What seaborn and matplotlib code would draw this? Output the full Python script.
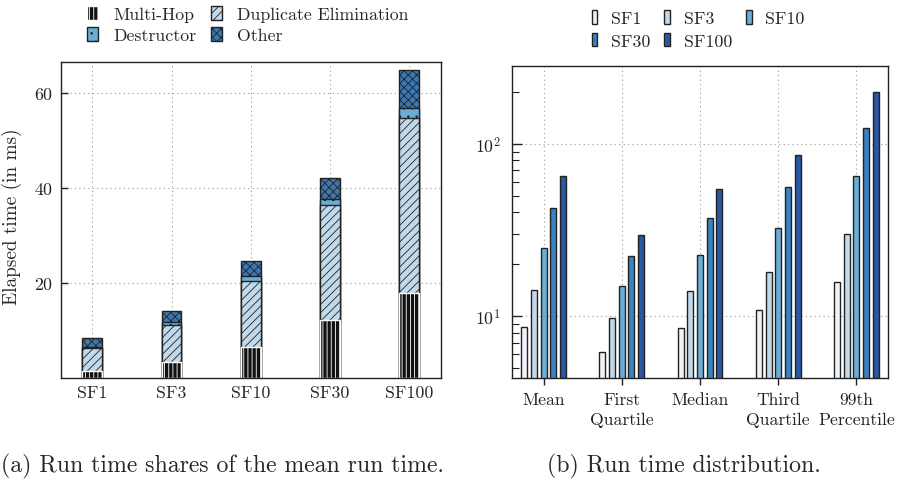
import numpy as np
import pandas as pd
import matplotlib
matplotlib.use("Agg")
import matplotlib.pyplot as plt
import seaborn as sns
from matplotlib.patches import Patch
from matplotlib.ticker import LogLocator, NullFormatter

# ---------------- data ----------------
scale_factors = ["SF1", "SF3", "SF10", "SF30", "SF100"]
# stacked components of the mean run time (ms)
multi_hop = [1.5, 3.4, 6.6, 12.2, 17.9]
dup_elim = [4.75, 7.75, 13.9, 24.2, 36.8]
destructor = [0.3, 0.55, 0.9, 1.3, 2.2]
other = [1.95, 2.3, 3.3, 4.3, 8.0]

stats = ["Mean", "First\nQuartile", "Median", "Third\nQuartile", "99th\nPercentile"]
dist_sf1 = [8.6, 6.2, 8.55, 10.9, 15.7]
dist_sf3 = [14.2, 9.8, 14.0, 17.9, 29.8]
dist_sf10 = [24.7, 14.9, 22.6, 32.3, 64.9]
dist_sf30 = [42.2, 22.2, 36.9, 55.8, 122.7]
dist_sf100 = [64.9, 29.6, 54.3, 85.9, 198.6]

# ---------------- style ----------------
sns.set_theme(style="white")
plt.rcParams.update({
    "font.family": "serif",
    "font.serif": ["cmr10"],
    "mathtext.fontset": "cm",
    "axes.formatter.use_mathtext": True,
    "font.size": 13,
    "hatch.linewidth": 0.6,
    "axes.edgecolor": "#222222",
    "axes.linewidth": 1.0,
})

W, H = 906, 481
DPI = 100
fig = plt.figure(figsize=(W / DPI, H / DPI), dpi=DPI)
fig.canvas.draw()
renderer = fig.canvas.get_renderer()

def rect(l, t, r, b):
    return [l / W, 1 - b / H, (r - l) / W, (b - t) / H]

def fit_size(s, target_px, base=13.0):
    t = fig.text(0, 0, s, fontsize=base)
    w = t.get_window_extent(renderer).width
    t.remove()
    return base * target_px / w

def text_height(s, size):
    t = fig.text(0, 0, s, fontsize=size)
    h = t.get_window_extent(renderer).height
    t.remove()
    return h

LEFT_TICK_FS = fit_size("SF100", 48)
RIGHT_TICK_FS = fit_size("Percentile", 77)
YLABEL_FS = fit_size("Elapsed time (in ms)", 177)
LEG_FS = fit_size("Multi-Hop", 81)
CAP_FS = fit_size("(b) Run time distribution.", 275)

ax1 = fig.add_axes(rect(60.7, 63, 440.7, 379))
ax2 = fig.add_axes(rect(512.3, 67.3, 887.7, 379.3))

# ---------------- left: stacked bars ----------------
cum_mh = np.array(multi_hop)
cum_dup = cum_mh + np.array(dup_elim)
cum_des = cum_dup + np.array(destructor)
cum_oth = cum_des + np.array(other)

layers = {
    "Other": (cum_oth, "#3b77b2", "xxxx", "#333333"),
    "Destructor": (cum_des, "#6aaed6", "..", "#333333"),
    "Duplicate Elimination": (cum_dup, "#c1d9eb", "////", "#333333"),
    "Multi-Hop": (cum_mh, "#111111", "||||", "white"),
}
for name in ["Other", "Destructor", "Duplicate Elimination", "Multi-Hop"]:
    vals, color, hatch, hcol = layers[name]
    df = pd.DataFrame({"sf": scale_factors, "v": vals})
    n_before = len(ax1.patches)
    sns.barplot(data=df, x="sf", y="v", ax=ax1, color=color, width=0.25,
                edgecolor="#222222", linewidth=1.0, saturation=1, errorbar=None)
    for p in ax1.patches[n_before:]:
        p.set_facecolor(color)
        p.set_hatch(hatch)
        if hasattr(p, "set_hatchcolor"):
            p.set_hatchcolor(hcol)
        elif name == "Multi-Hop":
            p.set_edgecolor("white")

ax1.set_xlim(-0.4, 4.4)
ax1.set_ylim(0, 66.5)
ax1.set_yticks([20, 40, 60])
ax1.set_xlabel("")
ax1.set_ylabel("Elapsed time (in ms)", fontsize=YLABEL_FS)
ax1.yaxis.set_label_coords((22.5 - 60.7) / 380.0, 0.515)
ax1.grid(True, linestyle=(0, (1, 3)), color="#999999", linewidth=0.8)
ax1.set_axisbelow(True)
ax1.tick_params(axis="y", direction="in", length=5, width=1, left=True,
                colors="#222222", labelsize=LEFT_TICK_FS, pad=5.3)
ax1.tick_params(axis="x", direction="in", length=0, pad=5.0, labelsize=LEFT_TICK_FS)
for s in ax1.spines.values():
    s.set_visible(True)

# ---------------- right: distribution bars ----------------
dist = pd.DataFrame({
    "stat": stats * 5,
    "sf": sum([[sf] * 5 for sf in scale_factors], []),
    "v": dist_sf1 + dist_sf3 + dist_sf10 + dist_sf30 + dist_sf100,
})
pal = ["#eef2f9", "#c3d9ea", "#6aaed6", "#3a82c0", "#2b58a3"]
sns.barplot(data=dist, x="stat", y="v", hue="sf", hue_order=scale_factors,
            palette=pal, ax=ax2, width=0.62, gap=0.38, saturation=1,
            edgecolor="#222222", linewidth=1.0, errorbar=None, legend=False)
ax2.set_yscale("log")
ax2.set_ylim(4.35, 281)
ax2.set_xlim(-0.4, 4.4)
ax2.set_xlabel("")
ax2.set_ylabel("")
ax2.yaxis.set_major_locator(LogLocator(base=10, numticks=10))
ax2.yaxis.set_minor_locator(LogLocator(base=10, subs=np.arange(2, 10), numticks=20))
ax2.yaxis.set_minor_formatter(NullFormatter())
ax2.grid(True, which="major", linestyle=(0, (1, 3)), color="#999999", linewidth=0.8)
ax2.set_axisbelow(True)
ax2.tick_params(axis="y", which="major", direction="in", length=7, width=1, left=True,
                colors="#222222", labelsize=RIGHT_TICK_FS, pad=8.5)
ax2.tick_params(axis="y", which="minor", direction="in", length=5, width=0.8, left=True, colors="#222222")
ax2.tick_params(axis="x", direction="out", length=5, width=1, bottom=True,
                colors="#222222", pad=4.5, labelsize=RIGHT_TICK_FS)
for s in ax2.spines.values():
    s.set_visible(True)

# line spacing of two-line tick labels: second line ~20.7 px below first
h1 = text_height("First", RIGHT_TICK_FS)
t2 = fig.text(0, 0, "First\nQuartile", fontsize=RIGHT_TICK_FS, linespacing=1.2)
h2 = t2.get_window_extent(renderer).height
t2.remove()
ls = 1.2 * 20.7 / max(h2 - h1, 1)
for lab in ax2.get_xticklabels():
    lab.set_linespacing(ls)

# ---------------- legends ----------------
def place_legend(handles, ncol, first_text_left, first_row_center, hl_px, hh_px,
                 pad_px, colsp_px, rowdist_px):
    fpx = LEG_FS * DPI / 72.0
    th = text_height("SF1 Multi", LEG_FS)
    row_h = max(hh_px, th)
    leg = fig.legend(handles=handles, ncol=ncol, loc="upper left",
                     bbox_to_anchor=(0.0, 1.0), bbox_transform=fig.transFigure,
                     frameon=False, fontsize=LEG_FS, borderpad=0, borderaxespad=0,
                     handlelength=hl_px / fpx, handleheight=hh_px / fpx,
                     handletextpad=pad_px / fpx, columnspacing=colsp_px / fpx,
                     labelspacing=max(rowdist_px - row_h, 0) / fpx)
    fig.canvas.draw()
    ext = leg.get_texts()[0].get_window_extent(renderer)
    dx = first_text_left - ext.x0
    dy = (H - first_row_center) - (ext.y0 + ext.y1) / 2.0
    leg.set_bbox_to_anchor((dx / W, 1.0 + dy / H), transform=fig.transFigure)
    return leg

leg1_order = ["Multi-Hop", "Destructor", "Duplicate Elimination", "Other"]
leg1_handles = []
for name in leg1_order:
    vals, color, hatch, hcol = layers[name]
    ph = Patch(facecolor=color, edgecolor="#222222", hatch=hatch, label=name)
    if hasattr(ph, "set_hatchcolor"):
        ph.set_hatchcolor(hcol)
    elif name == "Multi-Hop":
        ph.set_edgecolor("white")
    leg1_handles.append(ph)
place_legend(leg1_handles, 2, 113, 15.5, 11, 14, 15, 14.7, 20.5)

leg2_order = ["SF1", "SF30", "SF3", "SF100", "SF10"]
leg2_handles = [Patch(facecolor=pal[scale_factors.index(sf)], edgecolor="#222222", label=sf)
                for sf in leg2_order]
place_legend(leg2_handles, 3, 611, 19.5, 5.6, 14, 13.7, 14, 22)

# ---------------- captions ----------------
fig.text(1 / W, 1 - 466 / H, "(a) Run time shares of the mean run time.",
         ha="left", va="center", fontsize=CAP_FS)
fig.text(684 / W, 1 - 466 / H, "(b) Run time distribution.",
         ha="center", va="center", fontsize=CAP_FS)

fig.savefig("out.png", dpi=DPI)
